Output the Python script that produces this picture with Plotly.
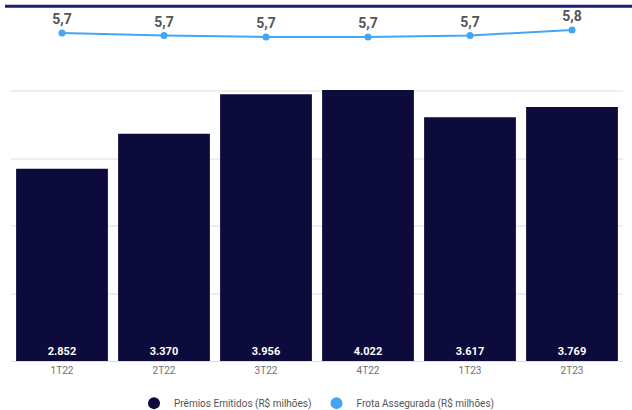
import plotly.graph_objects as go

categories = ["1T22", "2T22", "3T22", "4T22", "1T23", "2T23"]
premios = [2852, 3370, 3956, 4022, 3617, 3769]
frota = [5.72, 5.69, 5.67, 5.67, 5.69, 5.76]

bar_color = "#0d0b3b"
line_color = "#42a5f5"

fig = go.Figure()
fig.add_trace(go.Bar(
    x=categories, y=premios, name="Prêmios Emitidos (R$ milhões)", showlegend=False,
    marker=dict(color=bar_color, line=dict(width=0)),
    texttemplate="<b>%{y:,.0f}</b>", textposition="inside", insidetextanchor="start",
    textfont=dict(color="white", size=11, family="Roboto"), cliponaxis=False,
))
fig.add_trace(go.Scatter(
    x=categories, y=frota, name="Frota Assegurada (R$ milhões)", yaxis="y2", showlegend=False,
    mode="lines+markers+text", line=dict(color=line_color, width=2),
    marker=dict(color=line_color, size=7),
    texttemplate="<b>%{y:.1f}</b>", textposition="top center",
    textfont=dict(color="#555555", size=14, family="Roboto"), cliponaxis=False,
))
# legend entries (circle symbols)
fig.add_trace(go.Scatter(x=[None], y=[None], mode="markers", name="Prêmios Emitidos (R$ milhões)",
                         marker=dict(color=bar_color, size=11, symbol="circle")))
fig.add_trace(go.Scatter(x=[None], y=[None], mode="markers", name="Frota Assegurada (R$ milhões)",
                         marker=dict(color=line_color, size=11, symbol="circle")))

fig.update_layout(
    width=632, height=410, separators=",.",
    margin=dict(l=11, r=9, t=24, b=49, autoexpand=False),
    plot_bgcolor="white", paper_bgcolor="white",
    bargap=0.1,
    font=dict(family="Roboto", color="#666666", size=10),
    xaxis=dict(showgrid=False, ticks="", tickfont=dict(size=10, color="#707070"),
               showline=True, linecolor="#dddddd", linewidth=1),
    yaxis=dict(range=[0, 5000], dtick=1000, showticklabels=False,
               gridcolor="#eeeeee", gridwidth=1.5, zeroline=False),
    yaxis2=dict(range=[1.504, 5.837], overlaying="y", showticklabels=False,
                showgrid=False, zeroline=False),
    legend=dict(orientation="h", x=0.5, xanchor="center", y=-0.125, yanchor="middle",
                font=dict(size=10, color="#555555"), itemsizing="constant"),
    showlegend=True,
)
fig.add_shape(type="line", xref="paper", yref="paper", x0=-0.0098, x1=1.02,
              y0=1.053, y1=1.053, line=dict(color="#1a1f6e", width=3))
fig.write_html("out.html", config={"displayModeBar": False},
               post_script="document.body.style.margin='0';document.body.style.overflow='hidden';")
